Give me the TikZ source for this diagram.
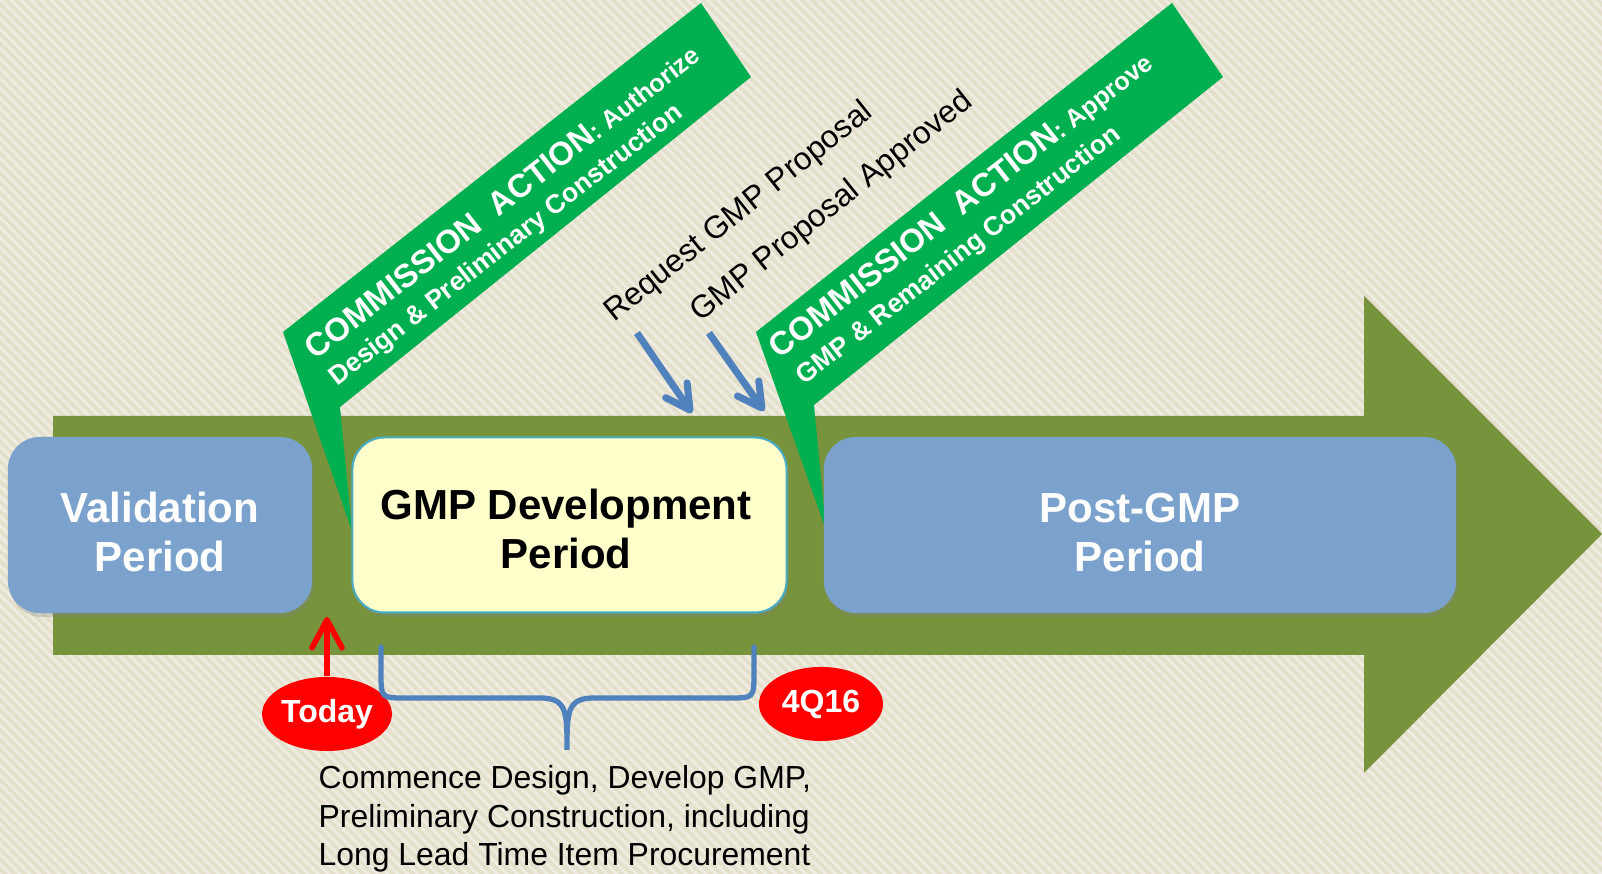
\documentclass[tikz,border=0pt]{standalone}
\usepackage{fontspec}
\setmainfont{Liberation Sans}
\usetikzlibrary{shapes.geometric}
\usetikzlibrary{positioning}
\usetikzlibrary{arrows.meta}
\usetikzlibrary{patterns.meta}
\usetikzlibrary{shadows}

\definecolor{paper}{HTML}{E4E0CC}
\definecolor{paperstripe}{HTML}{EFEDE3}
\definecolor{arrowgreen}{HTML}{77933C}
\definecolor{periodblue}{HTML}{7BA1CD}
\definecolor{gmpyellow}{HTML}{FFFFCC}
\definecolor{gmpborder}{HTML}{4BACC6}
\definecolor{actiongreen}{HTML}{00B050}
\definecolor{markblue}{HTML}{4F81BD}
\definecolor{datered}{HTML}{FF0000}

\newcommand{\actionbig}{\fontsize{9.3}{11}\selectfont}

\begin{document}
\begin{tikzpicture}[x=0.01cm,y=-0.01cm]
    \tikzset{
      periodbox/.style={
        rectangle,
        rounded corners=0.32cm,
        minimum height=1.76cm,
        inner sep=0mm,
        fill=periodblue,
        drop shadow={opacity=0.3,shadow xshift=0.02cm,shadow yshift=-0.04cm}
      },
      gmpbox/.style={
        periodbox,
        fill=gmpyellow,
        draw=gmpborder,
        line width=0.6pt
      },
      boxlabel/.style={
        align=center,
        inner sep=0mm,
        font=\fontsize{11.95}{13.94}\selectfont\bfseries
      },
      actiontext/.style={
        anchor=base west,
        inner sep=0mm,
        rotate=38,
        text=white,
        font=\fontsize{7.2}{8.5}\selectfont\bfseries
      },
      proposaltext/.style={
        anchor=base west,
        inner sep=0mm,
        rotate=38.6,
        font=\fontsize{9.0}{11}\selectfont
      },
      dateoval/.style={
        ellipse,
        minimum width=1.24cm,
        minimum height=0.74cm,
        inner sep=0mm,
        fill=datered,
        text=white,
        font=\fontsize{9.1}{10}\selectfont\bfseries
      },
      markarrow/.style={
        draw=markblue,
        line width=2pt,
        -{Straight Barb[round,length=0.24cm,width=0.26cm]}
      },
      todayarrow/.style={
        draw=datered,
        line width=1.6pt,
        -{Straight Barb[round,length=0.28cm,width=0.3cm]}
      },
      bracestyle/.style={
        draw=markblue,
        line width=1.5pt,
        line cap=round
      }
    }
    \useasboundingbox (0,0) rectangle (1602,874);

    %Background
    \fill[paper] (0,0) rectangle (1602,874);
    \fill[pattern={Lines[angle=-45,distance=2pt,line width=0.8pt]},pattern color=paperstripe]
      (0,0) rectangle (1602,874);

    %Timeline arrow
    \fill[arrowgreen] (53,416) -- (1364,416) -- (1364,296) -- (1602,534)
      -- (1364,773) -- (1364,655) -- (53,655) -- cycle;

    %First commission action
    \fill[actiongreen] (701,3) -- (751,77) -- (340,407) -- (352,531) -- (283,332) -- cycle;
    \node[actiontext] (authA) at (315,361) {{\actionbig COMMISSION\ \ ACTION}: Authorize};
    \node[actiontext,font=\fontsize{7.55}{8.5}\selectfont\bfseries] (authB) at (337,387)
      {Design \& Preliminary Construction};

    %Second commission action
    \fill[actiongreen] (1172,3) -- (1223,77) -- (814,405) -- (826,530) -- (756,332) -- cycle;
    \node[actiontext] (apprA) at (779,360) {{\actionbig COMMISSION\ \ ACTION}: Approve};
    \node[actiontext,font=\fontsize{7.55}{8.5}\selectfont\bfseries] (apprB) at (804,386)
      {GMP \& Remaining Construction};

    %Proposal milestones
    \node[proposaltext] (request) at (614,323) {Request GMP Proposal};
    \node[proposaltext] (approved) at (700,323) {GMP Proposal Approved};
    \coordinate (requestfrom) at (637,333);
    \coordinate (requestto) at (692,413);
    \coordinate (approvedfrom) at (709,333);
    \coordinate (approvedto) at (764,411);
    \draw[markarrow] (requestfrom) -- (requestto);
    \draw[markarrow] (approvedfrom) -- (approvedto);

    %Validation box
    \node[periodbox,minimum width=3.04cm] (valid) at (160,525) {};
    \node[boxlabel,text=white] (validtext) at (160,532) {Validation\\Period};

    %GMP development box
    \node[gmpbox,minimum width=4.34cm,minimum height=1.75cm] (gmp) at (569.5,525) {};
    \node[boxlabel,font=\fontsize{11.95}{13.66}\selectfont\bfseries] (gmptext) at (566,529)
      {GMP Development\\Period};

    %Post-GMP box
    \node[periodbox,minimum width=6.32cm] (post) at (1140,525) {};
    \node[boxlabel,text=white] (posttext) at (1140,533) {Post-GMP\\Period};

    %Date markers
    \node[dateoval] (today) at (327,714) {Today};
    \node[dateoval] (fourq) at (821,704) {4Q16};
    \coordinate (todaytip) at (327,617);
    \draw[todayarrow] (today.north) -- (todaytip);

    %Brace under GMP development
    \coordinate (braceleft) at (381,647);
    \coordinate (braceright) at (754,647);
    \coordinate (bracetip) at (567,750);
    \draw[bracestyle] (braceleft) -- (381,672) .. controls (381,698) .. (405,698)
      -- (540,698) .. controls (567,698) and (567,712) .. (bracetip)
      .. controls (567,712) and (567,698) .. (594,698) -- (730,698)
      .. controls (754,698) .. (754,672) -- (braceright);
    \node[anchor=north west,align=left,inner sep=0mm,font=\fontsize{9.07}{10.95}\selectfont]
      (note) at (318,765)
      {Commence Design, Develop GMP,\\Preliminary Construction, including\\Long Lead Time Item Procurement};
  \end{tikzpicture}
\end{document}
